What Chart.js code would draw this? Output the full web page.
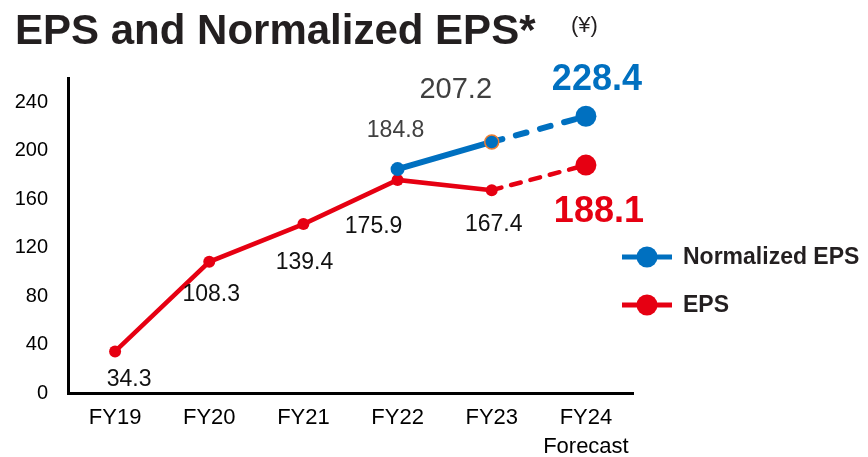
<!DOCTYPE html>
<html>
<head>
<meta charset="utf-8">
<script src="https://cdn.jsdelivr.net/npm/chart.js@4"></script>
<style>
  html, body { margin: 0; padding: 0; background: #fff; }
  #wrap { width: 868px; height: 457px; position: relative; }
</style>
</head>
<body>
<div id="wrap"><canvas id="chart"></canvas></div>
<script>
// Data
const categories = ['FY19', 'FY20', 'FY21', 'FY22', 'FY23', ['FY24', 'Forecast']];
const epsValues = [34.3, 108.3, 139.4, 175.9, 167.4, 188.1];
const normalizedValues = [null, null, null, 184.8, 207.2, 228.4];
const yTicks = [0, 40, 80, 120, 160, 200, 240];

const RED = '#e60012';
const BLUE = '#0070c0';
const FONT = '"Liberation Sans", Arial, sans-serif';

// label offsets from each point (style only)
const epsLabelStyle = [
  { dx: 14, dy: 28 }, { dx: 2, dy: 33 }, { dx: 1, dy: 39 },
  { dx: -24, dy: 47 }, { dx: 2, dy: 34 },
  { dx: 13, dy: 47, size: 36, bold: true, color: RED }
];
const normLabelStyle = [
  null, null, null,
  { dx: -2, dy: -38, color: '#404040' },
  { dx: -36, dy: -52, size: 29, color: '#404040' },
  { dx: 11, dy: -36, size: 36, bold: true, color: BLUE }
];

const dashLast = dash => ctx => ctx.p1DataIndex === 5 ? dash : undefined;

const labelsPlugin = {
  id: 'valueLabels',
  afterDatasetsDraw(chart) {
    const ctx = chart.ctx;
    ctx.save();
    ctx.textAlign = 'center';
    ctx.textBaseline = 'middle';
    const draw = (dsIndex, values, styles) => {
      const meta = chart.getDatasetMeta(dsIndex);
      values.forEach((v, i) => {
        if (v === null || !styles[i]) return;
        const s = styles[i];
        const p = meta.data[i];
        ctx.font = (s.bold ? 'bold ' : '') + (s.size || 23) + 'px ' + FONT;
        ctx.fillStyle = s.color || '#111';
        ctx.fillText(v.toFixed(1), p.x + s.dx, p.y + s.dy);
      });
    };
    draw(0, normalizedValues, normLabelStyle);
    draw(1, epsValues, epsLabelStyle);
    ctx.restore();
  }
};

const decorPlugin = {
  id: 'decor',
  afterDraw(chart) {
    const ctx = chart.ctx;
    ctx.save();
    // title
    ctx.fillStyle = '#231f20';
    ctx.textBaseline = 'alphabetic';
    ctx.textAlign = 'left';
    ctx.font = 'bold 42px ' + FONT;
    ctx.fillText('EPS and Normalized EPS*', 15, 44);
    ctx.font = '22px ' + FONT;
    ctx.fillText('(¥)', 571, 32);
    // legend
    const items = [
      { label: 'Normalized EPS', color: BLUE, y: 257 },
      { label: 'EPS', color: RED, y: 305 }
    ];
    items.forEach(it => {
      ctx.strokeStyle = it.color;
      ctx.lineWidth = 5;
      ctx.beginPath();
      ctx.moveTo(622, it.y);
      ctx.lineTo(672, it.y);
      ctx.stroke();
      ctx.fillStyle = it.color;
      ctx.beginPath();
      ctx.arc(647, it.y, 10.5, 0, Math.PI * 2);
      ctx.fill();
      ctx.fillStyle = '#231f20';
      ctx.font = 'bold 23px ' + FONT;
      ctx.textBaseline = 'middle';
      ctx.fillText(it.label, 683, it.y + 1);
    });
    ctx.restore();
  }
};

new Chart(document.getElementById('chart'), {
  type: 'line',
  data: {
    labels: categories,
    datasets: [
      {
        label: 'Normalized EPS',
        data: normalizedValues,
        borderColor: BLUE,
        backgroundColor: BLUE,
        borderWidth: 6,
        borderCapStyle: 'round',
        pointRadius: [0, 0, 0, 7, 7, 10.5],
        pointBackgroundColor: BLUE,
        pointBorderColor: [BLUE, BLUE, BLUE, BLUE, '#ed7d31', BLUE],
        pointBorderWidth: [0, 0, 0, 0, 1.5, 0],
        pointHoverRadius: 0,
        segment: { borderDash: dashLast([11, 14]) }
      },
      {
        label: 'EPS',
        data: epsValues,
        borderColor: RED,
        backgroundColor: RED,
        borderWidth: 4.5,
        borderCapStyle: 'round',
        pointRadius: [6, 6, 6, 6, 6, 10.5],
        pointBackgroundColor: RED,
        pointBorderWidth: 0,
        pointHoverRadius: 0,
        segment: { borderDash: dashLast([10, 10]) }
      }
    ]
  },
  options: {
    responsive: true,
    maintainAspectRatio: false,
    animation: false,
    layout: { padding: { top: 78, right: 235, left: 0, bottom: 0 } },
    plugins: {
      legend: { display: false },
      tooltip: { enabled: false }
    },
    scales: {
      x: {
        offset: true,
        grid: { display: false, drawTicks: false },
        border: { color: '#000', width: 3 },
        ticks: {
          color: '#000',
          font: { family: FONT, size: 22, lineHeight: 1.3 },
          padding: 11,
          maxRotation: 0
        },
        afterFit: s => { s.height = 64; }
      },
      y: {
        min: 0,
        max: 260,
        grid: { display: false, drawTicks: false },
        border: { color: '#000', width: 3 },
        afterBuildTicks: s => { s.ticks = yTicks.map(v => ({ value: v })); },
        ticks: {
          color: '#000',
          font: { family: FONT, size: 20 },
          padding: 20
        },
        afterFit: s => { s.width = 68; }
      }
    }
  },
  plugins: [labelsPlugin, decorPlugin]
});
</script>
</body>
</html>
